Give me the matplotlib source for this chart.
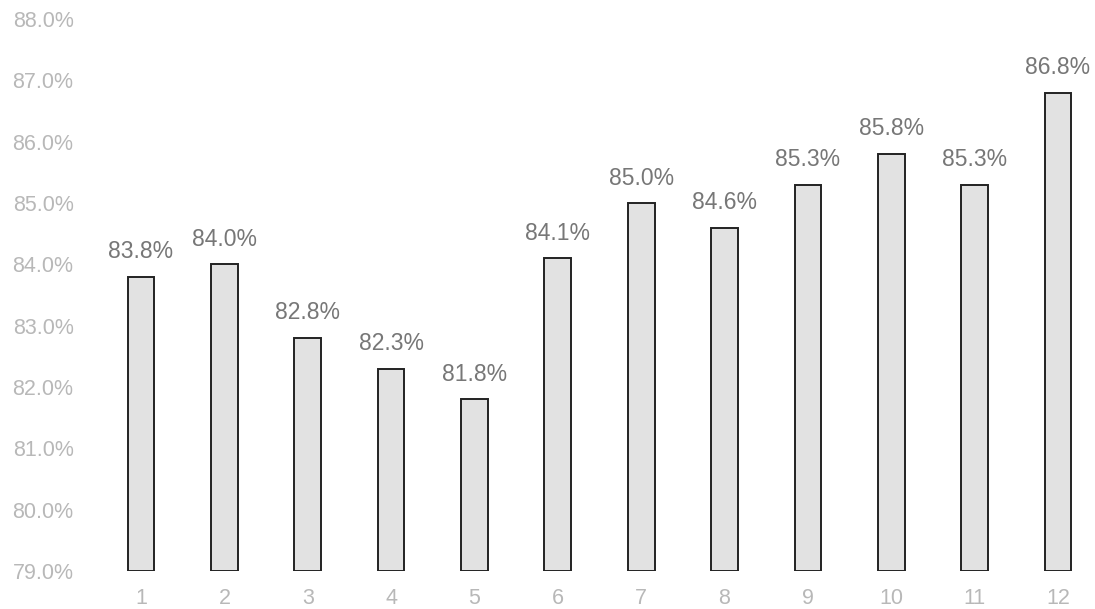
import numpy as np
import matplotlib.pyplot as plt

plt.rcParams['font.family'] = ['Liberation Sans', 'DejaVu Sans']

# monthly values, percent
months = [1, 2, 3, 4, 5, 6, 7, 8, 9, 10, 11, 12]
rates = [83.8, 84.0, 82.8, 82.3, 81.8, 84.1, 85.0, 84.6, 85.3, 85.8, 85.3, 86.8]
yticks = [79, 80, 81, 82, 83, 84, 85, 86, 87, 88]

fig = plt.figure(figsize=(10.95, 6.09), dpi=100)
ax = fig.add_axes([100 / 1095, 38 / 609, 990 / 1095, 552 / 609])

base = 79.0
heights = [r - base for r in rates]
ax.bar(months, heights, bottom=base, width=0.32, color='#e2e2e2',
       edgecolor='#222222', linewidth=1.4)

for m, r in zip(months, rates):
    ax.text(m, r + 0.22, '%.1f%%' % r, ha='center', va='bottom',
            fontsize=16.5, color='#777777')

ax.set_xlim(0.508, 12.384)
ax.set_ylim(79, 88)
ax.set_xticks(months)
ax.set_xticklabels([str(m) for m in months])
ax.set_yticks(yticks)
ax.set_yticklabels(['%.1f%%' % v for v in yticks])
ax.tick_params(axis='both', length=0, labelsize=15.5, labelcolor='#b8b8b8')
ax.tick_params(axis='y', pad=19)
ax.tick_params(axis='x', pad=12)
for s in ax.spines.values():
    s.set_visible(False)

fig.savefig('out.png', dpi=100)
